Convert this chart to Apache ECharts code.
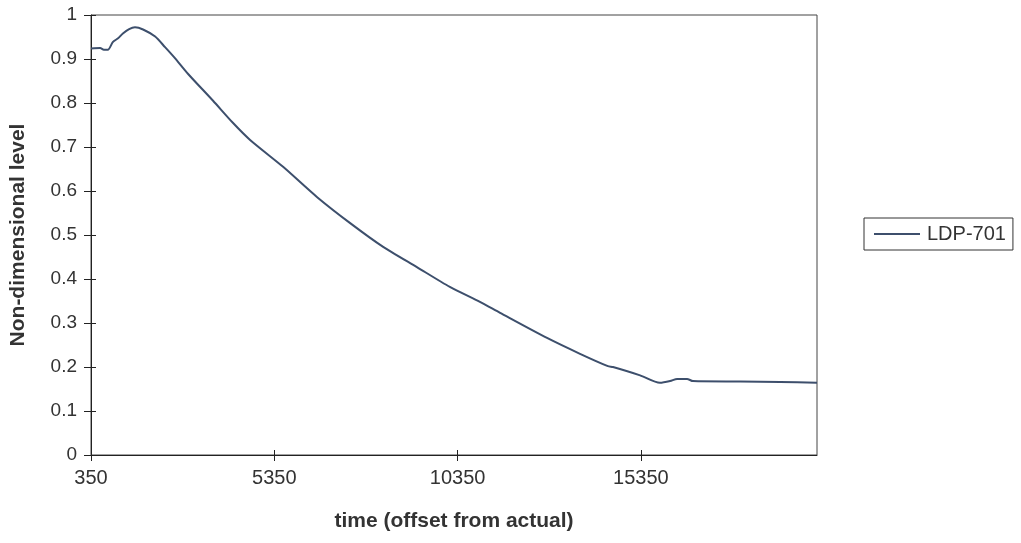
<!DOCTYPE html>
<html>
<head>
<meta charset="utf-8">
<script src="https://cdn.jsdelivr.net/npm/echarts@6/dist/echarts.min.js"></script>
<style>
  html, body { margin: 0; padding: 0; background: #fff; }
  #chart { width: 1021px; height: 543px; }
</style>
</head>
<body>
<div id="chart"></div>
<script>
// Level record LDP-701: time (offset from actual) vs non-dimensional level
const seriesName = 'LDP-701';
const timeValues = [
  350, 600, 700, 810, 950, 1090, 1220, 1390, 1550, 1770, 2100, 2370,
  2640, 3000, 3680, 4220, 4690, 5590, 6520, 7420, 8320, 9240, 10140, 10960,
  11510, 12790, 13690, 14450, 14590, 15330, 15870, 16150, 16340, 16610,
  16770, 18060, 19150, 20155
];
const levelValues = [
  0.924, 0.925, 0.921, 0.921, 0.939, 0.947, 0.958, 0.968, 0.972, 0.967, 0.951, 0.927,
  0.902, 0.866, 0.805, 0.755, 0.716, 0.655, 0.586, 0.527, 0.473, 0.427, 0.382, 0.348,
  0.323, 0.266, 0.230, 0.202, 0.200, 0.181, 0.164, 0.168, 0.173, 0.173,
  0.168, 0.167, 0.166, 0.164
];
const xTickLabels = [350, 5350, 10350, 15350];
const xMin = 350, xMax = 20155;

const points = timeValues.map((t, i) => [t, levelValues[i]]);

const font = 'Liberation Sans, Arial, sans-serif';
const ink = '#222';
const textInk = '#333';
const lineColor = '#3d4f6c';

const chart = echarts.init(document.getElementById('chart'), null, { renderer: 'canvas' });
chart.setOption({
  animation: false,
  backgroundColor: '#fff',
  grid: {
    left: 91, top: 15, width: 726, height: 440,
    show: true, borderColor: '#444', borderWidth: 1, backgroundColor: 'transparent'
  },
  legend: {
    left: 864, top: 218,
    data: [{ name: seriesName, icon: 'rect' }],
    orient: 'vertical',
    borderColor: '#333', borderWidth: 1, borderRadius: 0,
    padding: [6, 7, 6, 10],
    itemWidth: 46, itemHeight: 2, itemGap: 0,
    textStyle: { fontFamily: font, fontSize: 20, color: textInk, padding: [0, 0, 0, 2] }
  },
  xAxis: [
    {
      type: 'value', min: xMin, max: xMax, position: 'bottom',
      name: 'time (offset from actual)', nameLocation: 'middle', nameGap: 56,
      nameTextStyle: { fontFamily: font, fontSize: 21, fontWeight: 'bold', color: textInk },
      axisLine: { show: true, lineStyle: { color: ink, width: 1 } },
      axisTick: { show: true, length: 6, customValues: xTickLabels, lineStyle: { color: ink } },
      axisLabel: {
        customValues: xTickLabels, margin: 13, fontFamily: font, fontSize: 20, color: textInk,
        formatter: v => String(v)
      },
      splitLine: { show: false }
    },
    {
      type: 'value', min: xMin, max: xMax, position: 'bottom',
      axisLine: { show: false },
      axisTick: { show: true, inside: true, length: 5, customValues: xTickLabels, lineStyle: { color: ink } },
      axisLabel: { show: false },
      splitLine: { show: false }
    }
  ],
  yAxis: [
    {
      type: 'value', min: 0, max: 1, interval: 0.1, position: 'left',
      name: 'Non-dimensional level', nameLocation: 'middle', nameGap: 62,
      nameTextStyle: { fontFamily: font, fontSize: 21, fontWeight: 'bold', color: textInk },
      axisLine: { show: true, lineStyle: { color: ink, width: 1 } },
      axisTick: { show: true, length: 7, lineStyle: { color: ink } },
      axisLabel: {
        margin: 14, fontFamily: font, fontSize: 19, color: textInk,
        formatter: v => String(Math.round(v * 10) / 10)
      },
      splitLine: { show: false }
    },
    {
      type: 'value', min: 0, max: 1, interval: 0.1, position: 'left',
      axisLine: { show: false },
      axisTick: { show: true, inside: true, length: 5, lineStyle: { color: ink } },
      axisLabel: { show: false },
      splitLine: { show: false }
    }
  ],
  series: [
    {
      name: seriesName,
      type: 'line',
      xAxisIndex: 0, yAxisIndex: 0,
      data: points,
      showSymbol: false, symbol: 'none',
      smooth: 0.25,
      lineStyle: { color: lineColor, width: 2 },
      itemStyle: { color: lineColor }
    }
  ]
});
</script>
</body>
</html>
